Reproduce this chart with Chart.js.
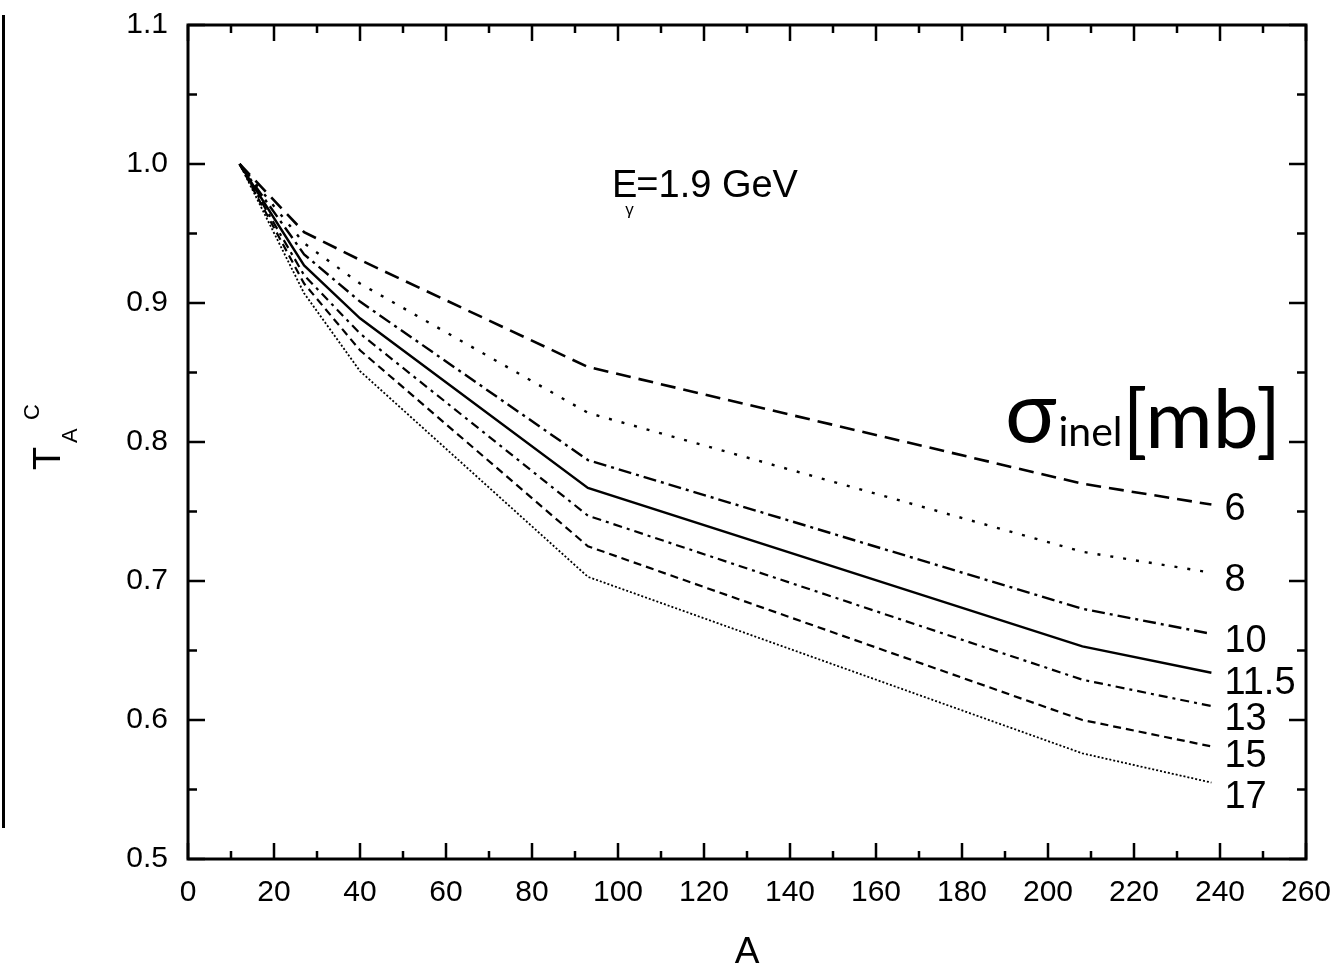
<!DOCTYPE html>
<html>
<head>
<meta charset="utf-8">
<script src="https://cdn.jsdelivr.net/npm/chart.js@4.4.1/dist/chart.umd.min.js"></script>
<style>
  body { margin: 0; background: #fff; }
  #wrap { position: relative; width: 1338px; height: 967px; }
  #edge { position: absolute; left: 2px; top: 15px; height: 813px; border-left: 3px solid #000; }
</style>
</head>
<body>
<div id="wrap">
  <div id="edge"></div>
  <canvas id="transparency" width="1338" height="967"></canvas>
</div>
<script>
// mass numbers of the targets (C, Al, Ca, Nb, Pb, U)
const massNumbers = [12, 27, 40, 93, 208, 238];

// transparency ratio T_A / T_C for each inelastic cross section
const sigma6   = [1.0, 0.951, 0.931, 0.854, 0.770, 0.755];
const sigma8   = [1.0, 0.943, 0.914, 0.821, 0.721, 0.706];
const sigma10  = [1.0, 0.935, 0.901, 0.787, 0.680, 0.662];
const sigma115 = [1.0, 0.927, 0.889, 0.767, 0.653, 0.634];
const sigma13  = [1.0, 0.920, 0.878, 0.747, 0.629, 0.610];
const sigma15  = [1.0, 0.914, 0.866, 0.725, 0.600, 0.581];
const sigma17  = [1.0, 0.907, 0.851, 0.703, 0.576, 0.555];

const curveLabels = ["6", "8", "10", "11.5", "13", "15", "17"];

const FONT = '"Liberation Sans", Arial, sans-serif';
const SIGMA_FONT = 'Lato, "Open Sans", sans-serif';

function pts(vals) {
  return massNumbers.map((a, i) => ({ x: a, y: vals[i] }));
}

function line(label, vals, dash, width) {
  return {
    label: label,
    data: pts(vals),
    borderColor: "#000",
    borderWidth: width || 2.2,
    borderDash: dash,
    pointRadius: 0,
    fill: false,
    tension: 0
  };
}

// nudge of each end label below its curve
const labelDy = [5, 8, 8, 11, 13, 10, 15];

// no extra room for overflowing tick labels, the layout padding handles it
function noScalePadding(scale) {
  scale.paddingTop = 0;
  scale.paddingBottom = 0;
  scale.paddingLeft = 0;
  scale.paddingRight = 0;
}

const framePlugin = {
  id: "frame",
  afterDraw(chart) {
    const ctx = chart.ctx;
    const xs = chart.scales.x, ys = chart.scales.y;
    const a = chart.chartArea;
    ctx.save();
    ctx.strokeStyle = "#000";

    // inward ticks on all four sides
    ctx.lineWidth = 2.5;
    ctx.beginPath();
    for (let v = 0; v <= 260; v += 10) {
      const px = xs.getPixelForValue(v);
      const len = v % 20 === 0 ? 16 : 8;
      ctx.moveTo(px, a.bottom); ctx.lineTo(px, a.bottom - len);
      ctx.moveTo(px, a.top); ctx.lineTo(px, a.top + len);
    }
    for (let k = 0; k <= 12; k++) {
      const v = 0.5 + k * 0.05;
      const py = ys.getPixelForValue(v);
      const len = k % 2 === 0 ? 17 : 9;
      ctx.moveTo(a.left, py); ctx.lineTo(a.left + len, py);
      ctx.moveTo(a.right, py); ctx.lineTo(a.right - len, py);
    }
    ctx.stroke();

    ctx.lineWidth = 3;
    ctx.strokeRect(a.left, a.top, a.right - a.left, a.bottom - a.top);

    ctx.fillStyle = "#000";

    // curve labels at the end of each line
    ctx.font = "38px " + FONT;
    ctx.textAlign = "left";
    ctx.textBaseline = "middle";
    chart.data.datasets.forEach((ds, i) => {
      const meta = chart.getDatasetMeta(i);
      const last = meta.data[meta.data.length - 1];
      ctx.fillText(curveLabels[i], last.x + 13, last.y + labelDy[i]);
    });

    // x axis title
    ctx.textAlign = "center";
    ctx.textBaseline = "alphabetic";
    ctx.font = "37px " + FONT;
    ctx.fillText("A", (a.left + a.right) / 2, 963);

    // y axis title T_A^C
    ctx.save();
    ctx.translate(60, 470);
    ctx.rotate(-Math.PI / 2);
    ctx.textAlign = "left";
    ctx.font = "38px " + FONT;
    ctx.fillText("T", 0, 0);
    ctx.font = "22px " + FONT;
    ctx.fillText("A", 27, 17);
    ctx.fillText("C", 50, -21);
    ctx.restore();

    // photon energy
    const ex = xs.getPixelForValue(98.6), ey = ys.getPixelForValue(0.976);
    ctx.textAlign = "left";
    ctx.font = "38px " + FONT;
    ctx.fillText("E", ex, ey);
    const ew = ctx.measureText("E").width;
    ctx.fillText("=1.9 GeV", ex + ew - 1, ey);
    ctx.font = "17px " + FONT;
    ctx.fillText("\u03b3", ex + ew - 12, ey + 18);

    // sigma_inel [mb]
    let sx = xs.getPixelForValue(190), sy = ys.getPixelForValue(0.8);
    ctx.font = "86px " + SIGMA_FONT;
    ctx.fillText("\u03c3", sx, sy);
    sx += ctx.measureText("\u03c3").width + 2;
    ctx.font = "41px " + SIGMA_FONT;
    ctx.fillText("inel", sx, sy + 4);
    sx += ctx.measureText("inel").width;
    ctx.font = "82px " + SIGMA_FONT;
    ctx.fillText("[mb]", sx, sy + 6);

    ctx.restore();
  }
};

new Chart(document.getElementById("transparency"), {
  type: "line",
  data: {
    datasets: [
      line("6", sigma6, [15, 8], 2.6),
      line("8", sigma8, [3, 10], 2.4),
      line("10", sigma10, [13, 5, 3, 5], 2.4),
      line("11.5", sigma115, [], 2.4),
      line("13", sigma13, [9, 5, 3, 5]),
      line("15", sigma15, [8, 5]),
      line("17", sigma17, [2, 2], 1.8)
    ]
  },
  options: {
    responsive: false,
    animation: false,
    layout: { padding: { top: 25, right: 32, left: 0, bottom: 0 } },
    plugins: {
      legend: { display: false },
      tooltip: { enabled: false }
    },
    scales: {
      x: {
        type: "linear",
        min: 0,
        max: 260,
        grid: { display: false, drawTicks: false },
        border: { display: false },
        ticks: {
          stepSize: 20,
          padding: 16,
          color: "#000",
          font: { family: FONT, size: 30 },
          maxRotation: 0
        },
        afterFit(scale) {
          scale.height = 108;
          noScalePadding(scale);
        }
      },
      y: {
        min: 0.5,
        max: 1.1,
        grid: { display: false, drawTicks: false },
        border: { display: false },
        ticks: {
          stepSize: 0.1,
          padding: 20,
          color: "#000",
          font: { family: FONT, size: 30 },
          callback: (v) => v.toFixed(1)
        },
        afterFit(scale) {
          scale.width = 188;
          noScalePadding(scale);
        }
      }
    }
  },
  plugins: [framePlugin]
});
</script>
</body>
</html>
